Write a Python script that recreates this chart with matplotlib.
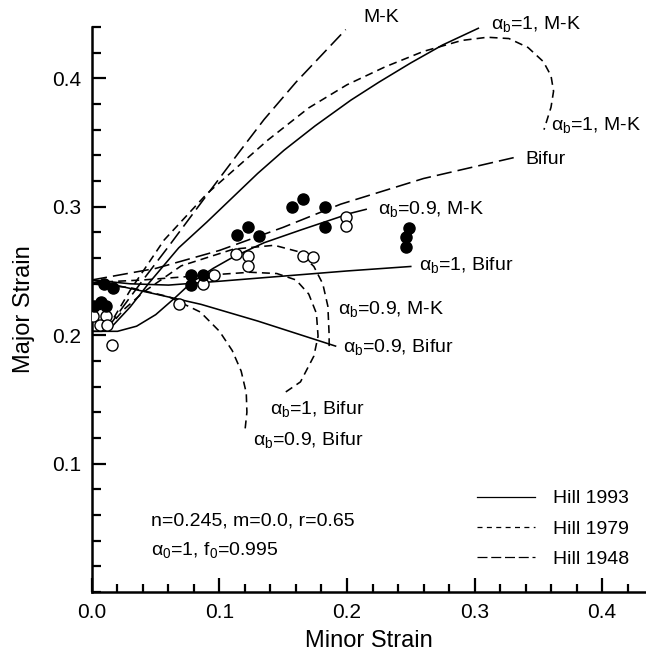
import numpy as np
import matplotlib
matplotlib.use("Agg")
import matplotlib.pyplot as plt
from matplotlib.lines import Line2D

plt.rcParams['font.family'] = ['Liberation Sans', 'DejaVu Sans']
plt.rcParams['mathtext.fontset'] = 'custom'
plt.rcParams['mathtext.rm'] = 'Liberation Sans'
plt.rcParams['mathtext.it'] = 'Liberation Sans'
plt.rcParams['mathtext.bf'] = 'Liberation Sans:bold'

# experimental limit strains
filled_x = [0.157, 0.1655, 0.1827, 0.1827, 0.1137, 0.1224, 0.131, 0.0776, 0.087,
            0.0776, 0.0094, 0.0165, 0.0016, 0.007, 0.011, 0.2486, 0.2463, 0.2463]
filled_y = [0.300, 0.306, 0.300, 0.2845, 0.278, 0.2845, 0.2775, 0.2465, 0.2465,
            0.2388, 0.2395, 0.237, 0.2225, 0.2256, 0.2225, 0.2837, 0.2767, 0.269]
open_x = [0.113, 0.1224, 0.1224, 0.1655, 0.173, 0.0957, 0.087, 0.068, 0.199, 0.199,
          0.001, 0.011, 0.006, 0.012, 0.016]
open_y = [0.2636, 0.262, 0.254, 0.262, 0.261, 0.247, 0.240, 0.224, 0.292, 0.285,
          0.215, 0.215, 0.208, 0.208, 0.192]

# Hill 1993 (solid)
h93_mk1_x = [0.0, 0.008, 0.015, 0.03, 0.045, 0.068, 0.09, 0.11, 0.13, 0.1506,
             0.175, 0.203, 0.225, 0.25, 0.275, 0.303]
h93_mk1_y = [0.203, 0.203, 0.206, 0.222, 0.241, 0.268, 0.288, 0.307, 0.326, 0.344,
             0.363, 0.383, 0.397, 0.412, 0.426, 0.439]
h93_mk09_x = [0.0, 0.02, 0.035, 0.05, 0.065, 0.078, 0.095, 0.111, 0.135, 0.164,
              0.185, 0.203, 0.215]
h93_mk09_y = [0.203, 0.203, 0.207, 0.216, 0.229, 0.241, 0.252, 0.261, 0.272, 0.282,
              0.289, 0.295, 0.298]
h93_bif1_x = [0.0, 0.03, 0.06, 0.1, 0.15, 0.2, 0.25]
h93_bif1_y = [0.243, 0.24, 0.239, 0.242, 0.246, 0.25, 0.2535]
h93_bif09_x = [0.0, 0.05, 0.0855, 0.13, 0.191]
h93_bif09_y = [0.243, 0.232, 0.224, 0.211, 0.1915]

# Hill 1979 (short dash)
h79_mk1_x = [0.012, 0.03, 0.0565, 0.09, 0.138, 0.17, 0.2, 0.23, 0.26, 0.29, 0.31,
             0.327, 0.342, 0.354, 0.36, 0.362, 0.36, 0.3545]
h79_mk1_y = [0.205, 0.235, 0.274, 0.31, 0.352, 0.377, 0.395, 0.409, 0.421, 0.4295,
             0.432, 0.431, 0.424, 0.413, 0.402, 0.39, 0.3775, 0.36]
h79_mk09_x = [0.012, 0.025, 0.041, 0.07, 0.111, 0.143, 0.162, 0.174, 0.181, 0.185,
              0.186, 0.186]
h79_mk09_y = [0.205, 0.22, 0.234, 0.254, 0.267, 0.27, 0.265, 0.2535, 0.24, 0.2225,
              0.2, 0.1915]
h79_bif1_x = [0.0, 0.04, 0.08, 0.124, 0.145, 0.16, 0.17, 0.176, 0.1773, 0.174,
              0.1635, 0.152]
h79_bif1_y = [0.241, 0.243, 0.246, 0.249, 0.248, 0.243, 0.232, 0.217, 0.1992, 0.1837,
              0.1636, 0.1558]
h79_bif09_x = [0.0, 0.03, 0.06, 0.085, 0.1, 0.11, 0.117, 0.121, 0.1215, 0.12]
h79_bif09_y = [0.24, 0.237, 0.23, 0.218, 0.203, 0.188, 0.172, 0.155, 0.14, 0.126]

# Hill 1948 (long dash)
h48_mk_x = [0.012, 0.025, 0.04, 0.06, 0.09, 0.115, 0.135, 0.16, 0.18, 0.199]
h48_mk_y = [0.205, 0.223, 0.243, 0.269, 0.309, 0.342, 0.368, 0.397, 0.418, 0.438]
h48_bif_x = [0.0, 0.05, 0.1, 0.15, 0.195, 0.26, 0.334]
h48_bif_y = [0.243, 0.252, 0.266, 0.284, 0.302, 0.322, 0.339]

SHORT = (5.0, 3.2)
LONG = (9.5, 3.8)
LW = 1.15

fig = plt.figure(figsize=(6.46, 6.55), dpi=100)
ax = fig.add_axes([0.1424, 0.0962, 0.8576, 0.8626])

for xs, ys in [(h93_mk1_x, h93_mk1_y), (h93_mk09_x, h93_mk09_y),
               (h93_bif1_x, h93_bif1_y), (h93_bif09_x, h93_bif09_y)]:
    ax.plot(xs, ys, color='black', lw=LW)
for xs, ys in [(h79_mk1_x, h79_mk1_y), (h79_mk09_x, h79_mk09_y),
               (h79_bif1_x, h79_bif1_y), (h79_bif09_x, h79_bif09_y)]:
    ax.plot(xs, ys, color='black', lw=LW, dashes=SHORT)
for xs, ys in [(h48_mk_x, h48_mk_y), (h48_bif_x, h48_bif_y)]:
    ax.plot(xs, ys, color='black', lw=LW, dashes=LONG)

ax.plot(open_x, open_y, 'o', ms=8, mfc='white', mec='black', mew=1.0, zorder=3)
ax.plot(filled_x, filled_y, 'o', ms=8, mfc='black', mec='black', zorder=3)

fs = 14
ab = r'$\alpha_b$'
ax.text(0.213, 0.447, 'M-K', fontsize=fs, va='center')
ax.text(0.313, 0.442, ab + '=1, M-K', fontsize=fs, va='center')
ax.text(0.36, 0.364, ab + '=1, M-K', fontsize=fs, va='center')
ax.text(0.340, 0.337, 'Bifur', fontsize=fs, va='center')
ax.text(0.224, 0.2985, ab + '=0.9, M-K', fontsize=fs, va='center')
ax.text(0.2565, 0.255, ab + '=1, Bifur', fontsize=fs, va='center')
ax.text(0.193, 0.22, ab + '=0.9, M-K', fontsize=fs, va='center')
ax.text(0.197, 0.1907, ab + '=0.9, Bifur', fontsize=fs, va='center')
ax.text(0.140, 0.1426, ab + '=1, Bifur', fontsize=fs, va='center')
ax.text(0.126, 0.1186, ab + '=0.9, Bifur', fontsize=fs, va='center')
ax.text(0.046, 0.0552, 'n=0.245, m=0.0, r=0.65', fontsize=fs, va='center')
ax.text(0.046, 0.0327, r'$\alpha_0$=1, f$_0$=0.995', fontsize=fs, va='center')

handles = [Line2D([], [], color='black', lw=0.9),
           Line2D([], [], color='black', lw=0.9, dashes=(4, 3.5)),
           Line2D([], [], color='black', lw=0.9, dashes=(8, 3))]
ax.legend(handles, ['Hill 1993', 'Hill 1979', 'Hill 1948'], loc='upper left',
          bbox_to_anchor=(0.695, 0.181), frameon=False, fontsize=fs,
          handlelength=3.0, handletextpad=0.9, labelspacing=0.65,
          borderpad=0, borderaxespad=0)

ax.set_xlim(0, 0.4345)
ax.set_ylim(0, 0.44)
ax.set_xticks([0.0, 0.1, 0.2, 0.3, 0.4])
ax.set_xticklabels(['0.0', '0.1', '0.2', '0.3', '0.4'])
ax.set_xticks(np.arange(0, 0.43, 0.02), minor=True)
ax.set_yticks([0.1, 0.2, 0.3, 0.4])
ax.set_yticklabels(['0.1', '0.2', '0.3', '0.4'])
ax.set_yticks(np.arange(0, 0.441, 0.02), minor=True)
ax.tick_params(which='both', direction='in', width=1.6, labelsize=15)
ax.tick_params(which='major', length=10, pad=8)
ax.tick_params(which='minor', length=6)
ax.tick_params(axis='y', which='minor', length=6.5)

for side in ['top', 'right']:
    ax.spines[side].set_visible(False)
for side in ['left', 'bottom']:
    ax.spines[side].set_linewidth(1.8)

ax.set_xlabel('Minor Strain', fontsize=17, labelpad=6)
ax.set_ylabel('Major Strain', fontsize=17, labelpad=12)

fig.savefig('out.png', dpi=100)
